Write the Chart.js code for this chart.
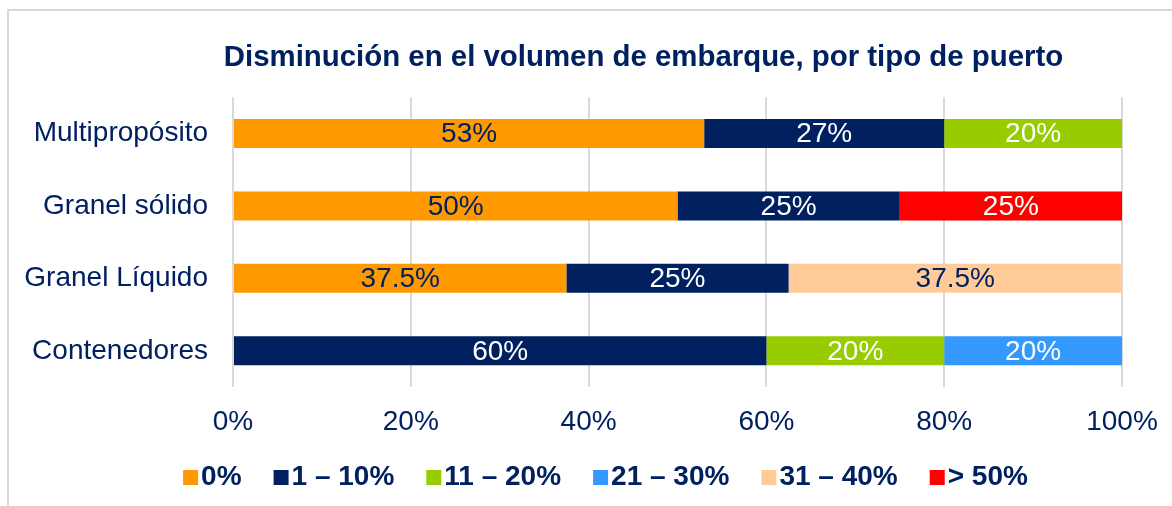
<!DOCTYPE html>
<html>
<head>
<meta charset="utf-8">
<script src="https://cdn.jsdelivr.net/npm/chart.js@4"></script>
<style>
  body { margin: 0; background: #fff; }
  #wrap { position: relative; width: 1172px; height: 506px; overflow: hidden; }
  #frame { position: absolute; left: 7px; top: 9px; width: 1300px; height: 700px;
           border-top: 2px solid #d9d9d9; border-left: 2px solid #d9d9d9; pointer-events: none; }
</style>
</head>
<body>
<div id="wrap">
  <canvas id="chart"></canvas>
  <div id="frame"></div>
</div>
<script>
// categories, top to bottom
var puertos = ["Multipropósito", "Granel sólido", "Granel Líquido", "Contenedores"];

// share of ports in each range of decrease (%)
var rango0    = [53, 50, 37.5, null];
var rango1_10 = [27, 25, 25, 60];
var rango11_20 = [20, null, null, 20];
var rango21_30 = [null, null, null, 20];
var rango31_40 = [null, null, 37.5, null];
var rango50   = [null, 25, null, null];

var leyenda = ["0%", "1 – 10%", "11 – 20%", "21 – 30%", "31 – 40%", "> 50%"];
var ticksX = [0, 20, 40, 60, 80, 100];

var navy = "#002060";
var font = "'Liberation Sans', Arial, sans-serif";

function serie(i, values, color, textColor) {
  return {
    label: leyenda[i],
    data: values,
    backgroundColor: color,
    borderWidth: 0,
    textColor: textColor,
    barPercentage: 0.8,
    categoryPercentage: 0.5
  };
}

var data = {
  labels: puertos,
  datasets: [
    serie(0, rango0, "#FF9900", navy),
    serie(1, rango1_10, "#002060", "#ffffff"),
    serie(2, rango11_20, "#99CC00", "#ffffff"),
    serie(3, rango21_30, "#3399FF", "#ffffff"),
    serie(4, rango31_40, "#FFCC99", navy),
    serie(5, rango50, "#FF0000", "#ffffff")
  ]
};

// percentages written inside the bars
var barLabels = {
  id: "barLabels",
  afterDatasetsDraw: function(chart) {
    var ctx = chart.ctx;
    ctx.save();
    ctx.font = "28px " + font;
    ctx.textAlign = "center";
    ctx.textBaseline = "middle";
    chart.data.datasets.forEach(function(ds, i) {
      chart.getDatasetMeta(i).data.forEach(function(bar, j) {
        var v = ds.data[j];
        if (v == null) return;
        ctx.fillStyle = ds.textColor;
        ctx.fillText(v + "%", (bar.x + bar.base) / 2, bar.y + 1);
      });
    });
    ctx.restore();
  }
};

// small square markers close to the legend text, title and legend nudged
var legendBoxes = {
  id: "legendBoxes",
  afterLayout: function(chart) {
    chart.titleBlock.left += 109;
    chart.legend.left += 37;
    chart.legend.top -= 15;
  },
  afterDraw: function(chart) {
    var ctx = chart.ctx;
    var lg = chart.legend;
    lg.legendHitBoxes.forEach(function(hb, i) {
      ctx.fillStyle = chart.data.datasets[i].backgroundColor;
      ctx.fillRect(hb.left - 4, hb.top + hb.height / 2 - 7, 15, 15);
    });
  }
};

var chart = new Chart(document.getElementById("chart"), {
  type: "bar",
  data: data,
  plugins: [barLabels, legendBoxes],
  options: {
    indexAxis: "y",
    responsive: true,
    maintainAspectRatio: false,
    animation: false,
    layout: { padding: { left: 10, right: 4, top: 10, bottom: -10 } },
    plugins: {
      title: {
        display: true,
        text: "Disminución en el volumen de embarque, por tipo de puerto",
        color: navy,
        font: { family: font, size: 29.4, weight: "bold" },
        padding: { top: 30, bottom: 22 }
      },
      legend: {
        position: "bottom",
        labels: {
          boxWidth: 0,
          padding: 36,
          color: navy,
          font: { family: font, size: 28, weight: "bold" }
        }
      },
      tooltip: { enabled: false }
    },
    scales: {
      x: {
        stacked: true,
        min: 0,
        max: 100,
        afterBuildTicks: function(scale) {
          scale.ticks = ticksX.map(function(v) { return { value: v }; });
        },
        afterFit: function(scale) {
          scale.height = 55;
          scale.paddingRight = 50;
        },
        grid: { color: "#d9d9d9", lineWidth: 2, drawTicks: false },
        border: { display: false },
        ticks: {
          padding: 18,
          color: navy,
          font: { family: font, size: 28 },
          callback: function(v) { return v + "%"; }
        }
      },
      y: {
        stacked: true,
        afterFit: function(scale) { scale.width = 223; },
        grid: { display: false, drawTicks: false },
        border: { display: false },
        ticks: {
          padding: 25,
          color: navy,
          font: { family: font, size: 28 }
        }
      }
    }
  }
});
</script>
</body>
</html>
